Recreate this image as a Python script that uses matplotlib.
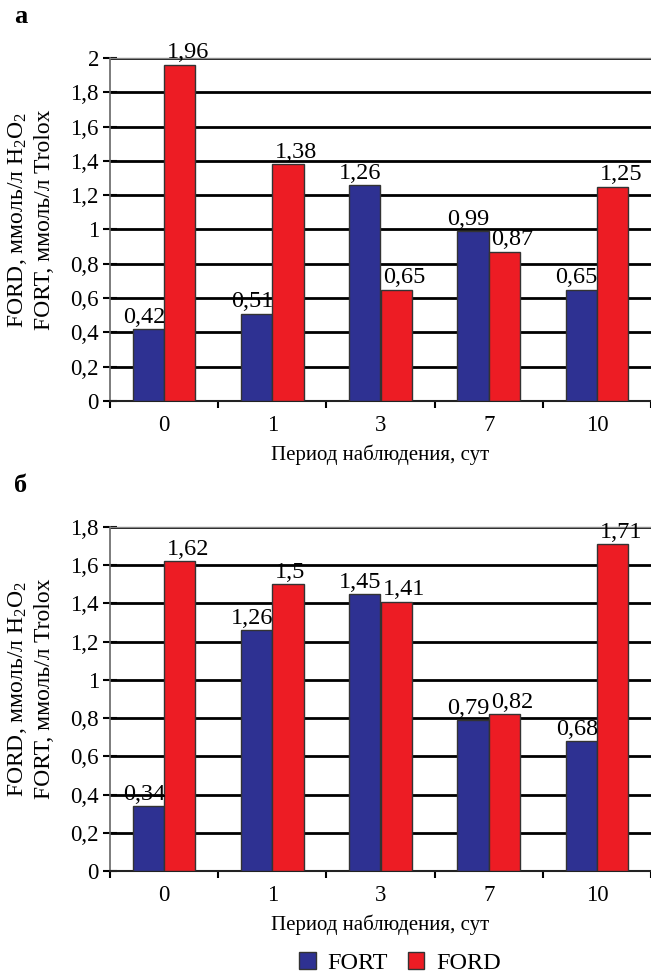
import matplotlib
matplotlib.use("Agg")
import matplotlib.pyplot as plt
from matplotlib.ticker import FuncFormatter, FixedLocator, MultipleLocator
from matplotlib.patches import Patch

plt.rcParams['font.family'] = ['Liberation Serif', 'DejaVu Serif']
plt.rcParams['mathtext.fontset'] = 'custom'
plt.rcParams['mathtext.rm'] = 'Liberation Serif'

days = ["0", "1", "3", "7", "10"]

fort_a = [0.42, 0.51, 1.26, 0.99, 0.65]
ford_a = [1.96, 1.38, 0.65, 0.87, 1.25]

fort_b = [0.34, 1.26, 1.45, 0.79, 0.68]
ford_b = [1.62, 1.50, 1.41, 0.82, 1.71]

series_names = ["FORT", "FORD"]
colors = ["#2E3192", "#ED1C24"]

ylabel_top = r"FORD, ммоль/л $\mathregular{H_2O_2}$"
ylabel_bot = "FORT, ммоль/л Trolox"
xlabel = "Период наблюдения, сут"

FS_VAL = 17.5
FS_TICK = 16.5
FS_XLAB = 15
FS_YLAB = 17
FS_LEG = 17.5


def comma(v):
    return f"{v:g}".replace(".", ",")


def panel(fig, rect, fort, ford, ymax, letter):
    ax = fig.add_axes(rect)
    x = list(range(len(days)))
    w = 0.29
    nudge = 0.025
    # FORT labels hug the right edge of their bar, FORD labels the left edge
    for vals, off, c, side in ((fort, -w / 2, colors[0], "right"),
                               (ford, w / 2, colors[1], "left")):
        bars = ax.bar([i + off for i in x], vals, width=w, color=c,
                      edgecolor="#333333", linewidth=1.0, zorder=3)
        for b, v in zip(bars, vals):
            if side == "right":
                tx = b.get_x() + b.get_width() + 0.01
            else:
                tx = b.get_x() + nudge
            ax.text(tx, v + ymax * 0.004, comma(v),
                    ha=side, va="bottom", fontsize=FS_VAL, zorder=4)
    ax.set_xlim(-0.5, len(days) - 0.5)
    ax.set_ylim(0, ymax)
    ax.yaxis.set_major_locator(MultipleLocator(0.2))
    ax.yaxis.set_major_formatter(FuncFormatter(lambda v, p: comma(round(v, 1))))
    ax.set_xticks(x)
    ax.set_xticklabels(days)
    ax.xaxis.set_minor_locator(FixedLocator([i + 0.5 for i in range(-1, len(days))]))
    ax.tick_params(axis="x", which="major", length=0, labelsize=FS_TICK, pad=10)
    ax.tick_params(axis="x", which="minor", length=5, width=1.5, direction="out",
                   color="black")
    ax.tick_params(axis="y", length=10, width=1.5, direction="inout",
                   labelsize=FS_TICK, pad=3, color="black")
    ax.grid(axis="y", color="black", linewidth=2.0, zorder=0)
    ax.set_axisbelow(True)
    ax.spines["right"].set_visible(False)
    ax.spines["top"].set_color("#888888")
    ax.spines["top"].set_linewidth(1.0)
    ax.spines["left"].set_color("#666666")
    ax.spines["left"].set_linewidth(1.2)
    ax.spines["bottom"].set_color("#222222")
    ax.spines["bottom"].set_linewidth(1.5)
    ax.set_xlabel(xlabel, fontsize=FS_XLAB, labelpad=6)

    # two-line vertical axis title
    cy = rect[1] + rect[3] / 2 + 10 / 976
    fig.text(18 / 651, cy, ylabel_top, rotation=90, ha="center", va="center",
             fontsize=FS_YLAB)
    fig.text(45 / 651, cy, ylabel_bot, rotation=90, ha="center", va="center",
             fontsize=FS_YLAB)
    fig.text(21 / 651, rect[1] + rect[3] + 0.043, letter, fontsize=19,
             fontweight="bold", ha="center", va="center")
    return ax


fig = plt.figure(figsize=(6.51, 9.76), dpi=100)
W, H = 651, 976
left = 110 / W
panel(fig, [left, 1 - 401 / H, 1 - left, (401 - 58) / H], fort_a, ford_a, 2.0, "а")
panel(fig, [left, 1 - 871 / H, 1 - left, (871 - 527) / H], fort_b, ford_b, 1.8, "б")

handles = [Patch(facecolor=c, edgecolor="#333333", label=n)
           for c, n in zip(colors, series_names)]
fig.legend(handles=handles, loc="center", bbox_to_anchor=(400 / W, 1 - 963 / H),
           ncol=2, frameon=False, fontsize=FS_LEG, handlelength=0.68,
           handleheight=0.68, handletextpad=0.5, columnspacing=0.8)

fig.savefig("out.png", dpi=100)
